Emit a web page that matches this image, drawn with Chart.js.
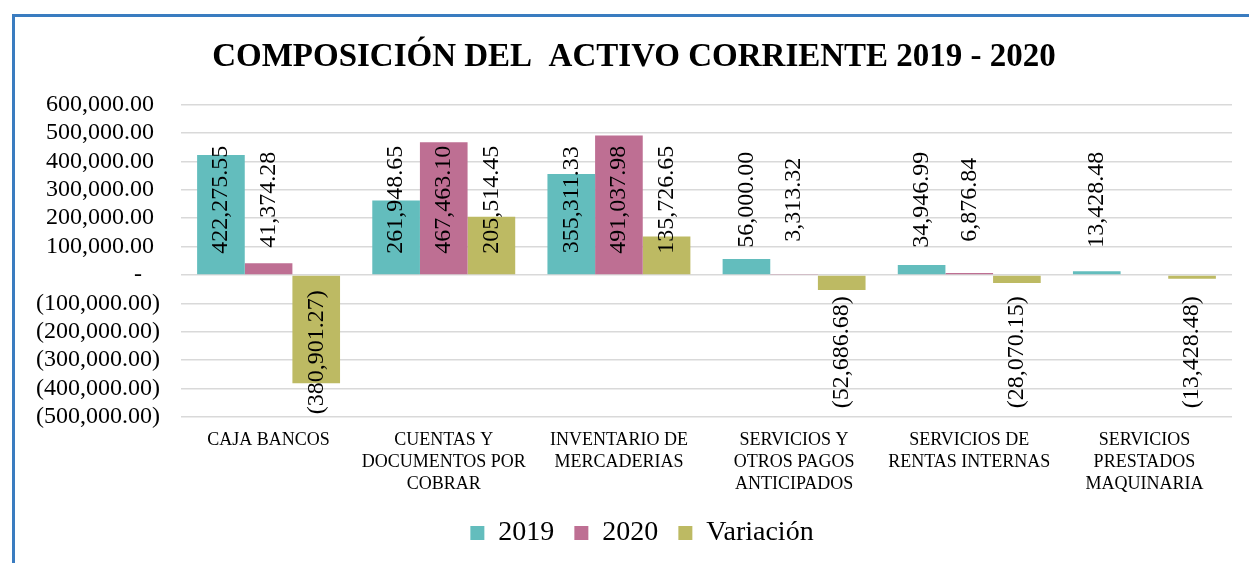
<!DOCTYPE html>
<html>
<head>
<meta charset="utf-8">
<script src="https://cdn.jsdelivr.net/npm/chart.js@4.4.0/dist/chart.umd.min.js"></script>
<style>
  html, body { margin: 0; padding: 0; background: #fff; }
  #wrap { position: relative; width: 1249px; height: 563px; overflow: hidden; }
  #frame { position: absolute; left: 12px; top: 14px; width: 1300px; height: 600px;
           border-left: 3px solid #3a7cc0; border-top: 3px solid #3a7cc0; }
  canvas { position: absolute; left: 0; top: 0; }
</style>
</head>
<body>
<div id="wrap">
  <div id="frame"></div>
  <canvas id="myChart" width="1249" height="563"></canvas>
</div>
<script>
const categories = [
    ['CAJA BANCOS'],
    ['CUENTAS Y', 'DOCUMENTOS POR', 'COBRAR'],
    ['INVENTARIO DE', 'MERCADERIAS'],
    ['SERVICIOS Y', 'OTROS PAGOS', 'ANTICIPADOS'],
    ['SERVICIOS DE', 'RENTAS INTERNAS'],
    ['SERVICIOS', 'PRESTADOS', 'MAQUINARIA']
];
const values2019 = [422275.55, 261948.65, 355311.33, 56000.00, 34946.99, 13428.48];
const values2020 = [41374.28, 467463.10, 491037.98, 3313.32, 6876.84, 0];
const variacion = [-380901.27, 205514.45, 135726.65, -52686.68, -28070.15, -13428.48];
const yTicks = [-500000, -400000, -300000, -200000, -100000, 0, 100000, 200000, 300000, 400000, 500000, 600000];

const SERIF = "'Liberation Serif', 'Times New Roman', serif";

// formato contable: negativos entre paréntesis, cero como guion
function contable(v) {
    const s = Math.abs(v).toLocaleString('en-US', {minimumFractionDigits: 2, maximumFractionDigits: 2});
    return v < 0 ? '(' + s + ')' : s;
}

const etiquetas = {
    id: 'etiquetas',
    afterLayout(chart) {
        // la leyenda queda un poco a la derecha en el original
        chart.legend.left += 16;
    },
    afterDatasetsDraw(chart) {
        const ctx = chart.ctx;
        const y = chart.scales.y;
        ctx.save();
        ctx.font = '24px ' + SERIF;
        ctx.fillStyle = '#000';
        ctx.textAlign = 'center';
        ctx.textBaseline = 'middle';
        chart.data.datasets.forEach((ds, i) => {
            chart.getDatasetMeta(i).data.forEach((bar, j) => {
                const v = ds.data[j];
                if (!v) return;
                const cy = y.getPixelForValue(v > 0 ? 265000 : -272000);
                ctx.save();
                ctx.translate(bar.x, cy);
                ctx.rotate(-Math.PI / 2);
                ctx.fillText(contable(v), 0, 0);
                ctx.restore();
            });
        });
        ctx.restore();
    }
};

const ctx = document.getElementById('myChart').getContext('2d');
const myChart = new Chart(ctx, {
    type: 'bar',
    data: {
        labels: categories,
        datasets: [
            { label: '2019', data: values2019, backgroundColor: 'rgba(99, 189, 189, 1)' },
            { label: '2020', data: values2020, backgroundColor: 'rgba(190, 111, 147, 1)' },
            { label: 'Variación', data: variacion, backgroundColor: 'rgba(189, 186, 99, 1)' }
        ]
    },
    options: {
        responsive: false,
        animation: false,
        layout: { padding: { left: 36, right: 17, top: 0, bottom: 6 } },
        datasets: {
            bar: { categoryPercentage: 0.816, barPercentage: 1 }
        },
        scales: {
            x: {
                grid: { display: false },
                border: { display: false },
                ticks: {
                    color: '#000',
                    font: { family: SERIF, size: 18, lineHeight: 1.22 },
                    padding: 4,
                    maxRotation: 0,
                    autoSkip: false
                },
                afterFit(scale) { scale.height = 82; }
            },
            y: {
                min: -500000,
                max: 600000,
                afterBuildTicks(scale) { scale.ticks = yTicks.map(v => ({ value: v })); },
                afterFit(scale) { scale.width = 145; },
                grid: { color: '#d9d9d9', lineWidth: 1.5, drawTicks: false },
                border: { display: false },
                ticks: {
                    color: '#000',
                    font: { family: SERIF, size: 24, lineHeight: 1 },
                    padding: 21,
                    autoSkip: false,
                    callback(v) {
                        if (v === 0) return '-\u2007 ';
                        return v < 0 ? contable(v) : contable(v) + ' ';
                    }
                }
            }
        },
        plugins: {
            title: {
                display: true,
                text: 'COMPOSICIÓN DEL  ACTIVO CORRIENTE 2019 - 2020',
                color: '#000',
                font: { family: SERIF, size: 33, weight: 'bold', lineHeight: 1.2 },
                padding: { top: 38, bottom: 27 }
            },
            legend: {
                position: 'bottom',
                labels: {
                    color: '#000',
                    font: { family: SERIF, size: 28 },
                    boxWidth: 14,
                    boxHeight: 14,
                    padding: 20
                }
            },
            tooltip: { enabled: false }
        }
    },
    plugins: [etiquetas]
});
</script>
</body>
</html>
